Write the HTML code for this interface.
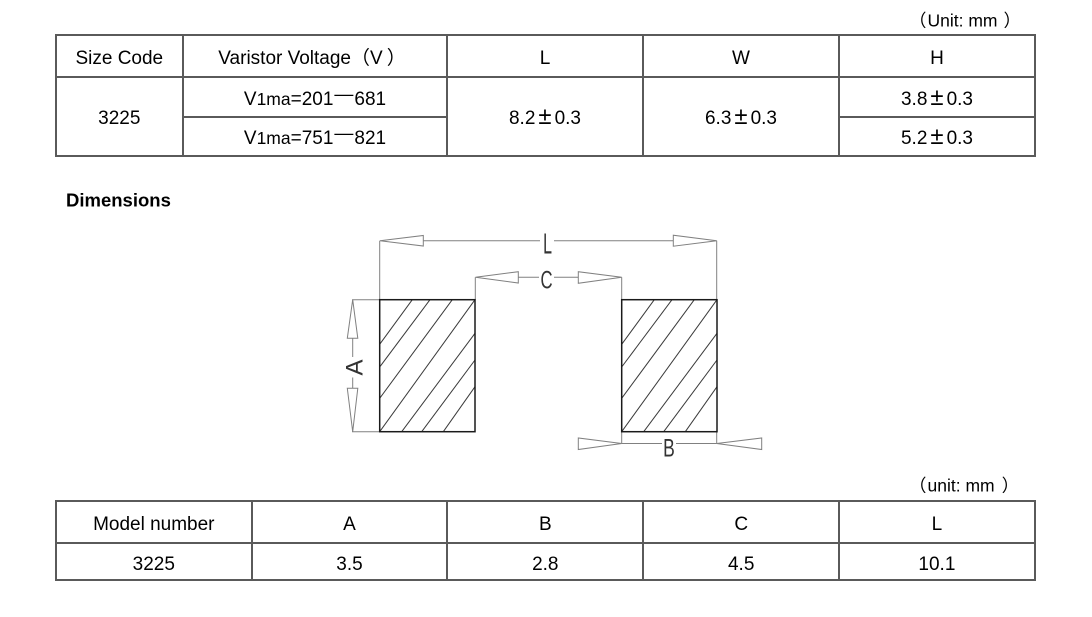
<!DOCTYPE html>
<html>
<head>
<meta charset="utf-8">
<style>
  html, body { margin: 0; padding: 0; background: #fff; }
  svg { display: block; }
  .t { font-family: "Liberation Sans", "Noto Sans CJK SC", sans-serif; font-size: 19px; fill: #000; }
  .u { font-family: "Liberation Sans", "Noto Sans CJK SC", sans-serif; font-size: 17.5px; fill: #000; }
  .cad { font-family: "Liberation Sans", sans-serif; fill: #333; }
</style>
</head>
<body>
<svg width="1092" height="617" viewBox="0 0 1092 617" xmlns="http://www.w3.org/2000/svg">
  <rect x="0" y="0" width="1092" height="617" fill="#fff"/>

  <!-- ===== Top table ===== -->
  <text class="u" x="909" y="26.7">（<tspan dx="1">Unit: mm</tspan><tspan dx="6">）</tspan></text>
  <g stroke="#5a5a5a" stroke-width="2" fill="none">
    <line x1="55" y1="35" x2="1036" y2="35"/>
    <line x1="55" y1="77" x2="1036" y2="77"/>
    <line x1="183" y1="117" x2="447" y2="117"/>
    <line x1="839" y1="117" x2="1036" y2="117"/>
    <line x1="55" y1="156" x2="1036" y2="156"/>
    <line x1="56" y1="34" x2="56" y2="157"/>
    <line x1="183" y1="34" x2="183" y2="157"/>
    <line x1="447" y1="34" x2="447" y2="157"/>
    <line x1="643" y1="34" x2="643" y2="157"/>
    <line x1="839" y1="34" x2="839" y2="157"/>
    <line x1="1035" y1="34" x2="1035" y2="157"/>
  </g>
  <g class="t" text-anchor="middle">
    <text x="119.3" y="64">Size Code</text>
    <text x="312" y="64">Varistor Voltage（V<tspan dx="4">）</tspan></text>
    <text x="545" y="64">L</text>
    <text x="741" y="64">W</text>
    <text x="937" y="64">H</text>

    <text x="119.3" y="124">3225</text>
    <text x="315" y="105">V<tspan font-size="17.5">1ma</tspan>=201<tspan dy="-4.5" dx="1">—</tspan><tspan dy="4.5" dx="1">681</tspan></text>
    <text x="315" y="144">V<tspan font-size="17.5">1ma</tspan>=751<tspan dy="-4.5" dx="1">—</tspan><tspan dy="4.5" dx="1">821</tspan></text>
    <text x="545" y="124">8.2<tspan font-size="24" dx="3">±</tspan><tspan dx="3">0.3</tspan></text>
    <text x="741" y="124">6.3<tspan font-size="24" dx="3">±</tspan><tspan dx="3">0.3</tspan></text>
    <text x="937" y="105">3.8<tspan font-size="24" dx="3">±</tspan><tspan dx="3">0.3</tspan></text>
    <text x="937" y="144">5.2<tspan font-size="24" dx="3">±</tspan><tspan dx="3">0.3</tspan></text>
  </g>

  <!-- ===== Dimensions title ===== -->
  <text x="66" y="206.7" style="font-family:'Liberation Sans',sans-serif;font-weight:bold;font-size:18.5px;fill:#000;">Dimensions</text>

  <!-- ===== Diagram ===== -->
  <g stroke="#808080" stroke-width="1" fill="none">
    <!-- L -->
    <line x1="379.7" y1="240.7" x2="379.7" y2="299.7"/>
    <line x1="716.7" y1="240.7" x2="716.7" y2="299.7"/>
    <polygon points="380,240.7 423.3,235.5 423.3,246"/>
    <polygon points="716.7,240.7 673.3,235.2 673.3,246.2"/>
    <line x1="423.3" y1="240.7" x2="540" y2="240.7"/>
    <line x1="554" y1="240.7" x2="673.3" y2="240.7"/>
    <!-- C -->
    <line x1="475.3" y1="277.3" x2="475.3" y2="299.7"/>
    <line x1="621.7" y1="277.3" x2="621.7" y2="299.7"/>
    <polygon points="475.5,277.3 518.3,271.7 518.3,283"/>
    <polygon points="621.7,277.3 578.3,271.7 578.3,283.3"/>
    <line x1="518.3" y1="277.3" x2="539" y2="277.3"/>
    <line x1="554" y1="277.3" x2="578.3" y2="277.3"/>
    <!-- A -->
    <line x1="352" y1="299.7" x2="379.7" y2="299.7"/>
    <line x1="352" y1="431.7" x2="379.7" y2="431.7"/>
    <polygon points="352.7,299.7 347.3,338.3 357.8,338.3"/>
    <polygon points="352.7,431.7 347.3,388.3 357.8,388.3"/>
    <line x1="352.7" y1="338.3" x2="352.7" y2="357"/>
    <line x1="352.7" y1="377.5" x2="352.7" y2="388.3"/>
    <!-- B -->
    <line x1="621.7" y1="431.7" x2="621.7" y2="443.5"/>
    <line x1="716.7" y1="431.7" x2="716.7" y2="443.5"/>
    <polygon points="621.7,443.5 578.3,438 578.3,449.5"/>
    <polygon points="716.7,443.5 761.7,438 761.7,449.5"/>
    <line x1="621.7" y1="443.5" x2="662" y2="443.5"/>
    <line x1="676" y1="443.5" x2="716.7" y2="443.5"/>
  </g>

  <!-- hatched pads -->
  <g>
    <g stroke="#3a3a3a" stroke-width="1" fill="none">
      <line x1="412.3" y1="299.7" x2="379.7" y2="344.3"/>
      <line x1="430" y1="299.7" x2="379.7" y2="367"/>
      <line x1="452.3" y1="299.7" x2="379.7" y2="398.3"/>
      <line x1="475" y1="299.7" x2="379.7" y2="431.7"/>
      <line x1="475" y1="333.3" x2="401.7" y2="431.7"/>
      <line x1="475" y1="360" x2="421.7" y2="431.7"/>
      <line x1="475" y1="386.7" x2="443.3" y2="431.7"/>
    </g>
    <rect x="379.7" y="299.7" width="95.3" height="132" fill="none" stroke="#1a1a1a" stroke-width="1.5"/>
  </g>
  <g transform="translate(242,0)">
    <g stroke="#3a3a3a" stroke-width="1" fill="none">
      <line x1="412.3" y1="299.7" x2="379.7" y2="344.3"/>
      <line x1="430" y1="299.7" x2="379.7" y2="367"/>
      <line x1="452.3" y1="299.7" x2="379.7" y2="398.3"/>
      <line x1="475" y1="299.7" x2="379.7" y2="431.7"/>
      <line x1="475" y1="333.3" x2="401.7" y2="431.7"/>
      <line x1="475" y1="360" x2="421.7" y2="431.7"/>
      <line x1="475" y1="386.7" x2="443.3" y2="431.7"/>
    </g>
    <rect x="379.7" y="299.7" width="95.3" height="132" fill="none" stroke="#1a1a1a" stroke-width="1.5"/>
  </g>

  <!-- CAD labels -->
  <text class="cad" font-size="29" text-anchor="middle" transform="translate(547.5,253.3) scale(0.55,1)">L</text>
  <text class="cad" font-size="25" text-anchor="middle" transform="translate(546.5,288.3) scale(0.67,1)">C</text>
  <text class="cad" font-size="25" text-anchor="middle" transform="translate(669,456.5) scale(0.7,1)">B</text>
  <text class="cad" font-size="24" text-anchor="middle" transform="translate(362.5,367.5) rotate(-90)">A</text>

  <!-- ===== Bottom table ===== -->
  <text class="u" x="909" y="491.7">（<tspan dx="1">unit: mm</tspan><tspan dx="7">）</tspan></text>
  <g stroke="#5a5a5a" stroke-width="2" fill="none">
    <line x1="55" y1="501" x2="1036" y2="501"/>
    <line x1="55" y1="543" x2="1036" y2="543"/>
    <line x1="55" y1="580" x2="1036" y2="580"/>
    <line x1="56" y1="500" x2="56" y2="581"/>
    <line x1="252" y1="500" x2="252" y2="581"/>
    <line x1="447" y1="500" x2="447" y2="581"/>
    <line x1="643" y1="500" x2="643" y2="581"/>
    <line x1="839" y1="500" x2="839" y2="581"/>
    <line x1="1035" y1="500" x2="1035" y2="581"/>
  </g>
  <g class="t" text-anchor="middle">
    <text x="153.8" y="530">Model number</text>
    <text x="349.5" y="530">A</text>
    <text x="545.3" y="530">B</text>
    <text x="741.2" y="530">C</text>
    <text x="936.9" y="530">L</text>
    <text x="153.8" y="570">3225</text>
    <text x="349.5" y="570">3.5</text>
    <text x="545.3" y="570">2.8</text>
    <text x="741.2" y="570">4.5</text>
    <text x="936.9" y="570">10.1</text>
  </g>
</svg>
</body>
</html>
